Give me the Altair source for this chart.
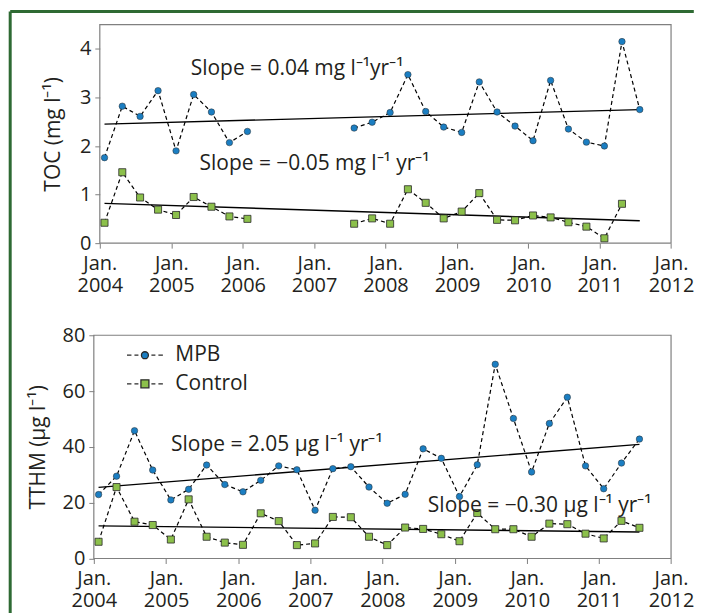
import altair as alt
import pandas as pd

# ---------------- data ----------------
series_names = ["MPB", "Control"]

toc_dates_a = ["2004-01-25", "2004-04-25", "2004-07-25", "2004-10-25", "2005-01-25",
               "2005-04-25", "2005-07-25", "2005-10-25", "2006-01-25"]
toc_dates_b = ["2007-07-25", "2007-10-25", "2008-01-25", "2008-04-25", "2008-07-25",
               "2008-10-25", "2009-01-25", "2009-04-25", "2009-07-25", "2009-10-25",
               "2010-01-25", "2010-04-25", "2010-07-25", "2010-10-25", "2011-01-25",
               "2011-04-25", "2011-07-25"]
toc_mpb = [1.76, 2.82, 2.61, 3.14, 1.90, 3.06, 2.70, 2.07, 2.30,
           2.37, 2.49, 2.69, 3.47, 2.71, 2.39, 2.28, 3.32, 2.70, 2.41, 2.11,
           3.35, 2.35, 2.08, 2.00, 4.15, 2.75]
toc_control = [0.42, 1.46, 0.94, 0.69, 0.58, 0.95, 0.75, 0.55, 0.50,
               0.40, 0.51, 0.40, 1.11, 0.83, 0.51, 0.65, 1.03, 0.48, 0.47, 0.57,
               0.53, 0.43, 0.34, 0.10, 0.81]

tthm_dates = ["2004-01-25", "2004-04-25", "2004-07-25", "2004-10-25",
              "2005-01-25", "2005-04-25", "2005-07-25", "2005-10-25",
              "2006-01-25", "2006-04-25", "2006-07-25", "2006-10-25",
              "2007-01-25", "2007-04-25", "2007-07-25", "2007-10-25",
              "2008-01-25", "2008-04-25", "2008-07-25", "2008-10-25",
              "2009-01-25", "2009-04-25", "2009-07-25", "2009-10-25",
              "2010-01-25", "2010-04-25", "2010-07-25", "2010-10-25",
              "2011-01-25", "2011-04-25", "2011-07-25"]
tthm_mpb = [22.9, 29.5, 45.8, 31.7, 21.0, 24.8, 33.5, 26.5, 23.9, 28.0, 33.2,
            31.8, 17.3, 32.2, 32.9, 25.6, 19.8, 23.0, 39.3, 35.9, 22.2, 33.6,
            69.6, 50.2, 31.0, 48.4, 57.8, 33.2, 25.0, 34.2, 42.8]
tthm_control = [6.0, 25.6, 13.2, 12.0, 6.8, 21.2, 7.8, 5.7, 4.9, 16.2, 13.4,
                4.8, 5.4, 14.9, 14.8, 7.8, 4.8, 11.1, 10.6, 8.7, 6.2, 16.3,
                10.5, 10.5, 7.8, 12.5, 12.3, 8.9, 7.2, 13.5, 11.0]

trend_dates = ["2004-01-25", "2011-07-25"]
toc_mpb_trend = [2.45, 2.75]
toc_control_trend = [0.82, 0.46]
tthm_mpb_trend = [25.5, 40.9]
tthm_control_trend = [11.7, 9.5]

toc_slope_labels = ["Slope = 0.04 mg l\u207b\u00b9yr\u207b\u00b9",
                    "Slope = \u22120.05 mg l\u207b\u00b9 yr\u207b\u00b9"]
tthm_slope_labels = ["Slope = 2.05 \u03bcg l\u207b\u00b9 yr\u207b\u00b9",
                     "Slope = \u22120.30 \u03bcg l\u207b\u00b9 yr\u207b\u00b9"]
year_ticks = [2004, 2005, 2006, 2007, 2008, 2009, 2010, 2011, 2012]

# ---------------- tables ----------------
def rows(dates, values, series, seg):
    return [{"date": d, "value": v, "series": series, "seg": seg} for d, v in zip(dates, values)]

na = len(toc_dates_a)
toc_df = pd.DataFrame(
    rows(toc_dates_a, toc_mpb[:na], "MPB", "MPB-1")
    + rows(toc_dates_b, toc_mpb[na:], "MPB", "MPB-2")
    + rows(toc_dates_a, toc_control[:na], "Control", "C-1")
    + rows(toc_dates_b, toc_control[na:], "Control", "C-2")
)
tthm_df = pd.DataFrame(
    rows(tthm_dates, tthm_mpb, "MPB", "MPB-1")
    + rows(tthm_dates, tthm_control, "Control", "C-1")
)
toc_trend_df = pd.DataFrame(
    rows(trend_dates, toc_mpb_trend, "MPB", "t1") + rows(trend_dates, toc_control_trend, "Control", "t2")
)
tthm_trend_df = pd.DataFrame(
    rows(trend_dates, tthm_mpb_trend, "MPB", "t1") + rows(trend_dates, tthm_control_trend, "Control", "t2")
)
toc_text_df = pd.DataFrame({"label": toc_slope_labels,
                            "date": ["2005-04-10", "2005-05-25"],
                            "value": [3.46, 1.51]})
tthm_text_df = pd.DataFrame({"label": tthm_slope_labels,
                             "date": ["2005-01-26", "2008-08-18"],
                             "value": [38.5, 16.5]})
one_row = pd.DataFrame({"k": [0]})

# ---------------- styling ----------------
FONT = "Open Sans"
TXT = "#231f20"
AX = "#808080"
BLUE = "#1b7ec2"
GREEN = "#8cc04b"
FRAME_GREEN = "#2e6a33"
W = 578.4

color_scale = alt.Scale(domain=series_names, range=[BLUE, GREEN])
X0 = alt.DateTime(year=2004, month=1, date=1, utc=True)
X1 = alt.DateTime(year=2012, month=1, date=1, utc=True)


def x_axis():
    return alt.Axis(values=[alt.DateTime(year=y, month=1, date=1, utc=True) for y in year_ticks],
                    labelExpr="['Jan.', utcFormat(datum.value, '%Y')]",
                    title=None, grid=False, labelAngle=0, labelFontSize=20,
                    labelLineHeight=22, labelPadding=5, labelFont=FONT, labelColor=TXT,
                    tickSize=5, tickColor=AX, domain=False, labelOverlap=False,
                    labelFlush=False)


def y_axis(title, values, pad, offset):
    return alt.Axis(values=values, title=title, grid=False, labelFontSize=20,
                    labelFont=FONT, labelColor=TXT, labelPadding=4, tickSize=5,
                    tickColor=AX, domain=False, titleFont=FONT, titleFontSize=21,
                    titleFontWeight="normal", titleColor=TXT, titlePadding=pad,
                    offset=offset)


def panel(df, trend_df, text_df, ytitle, ydomain, yvalues, tpad, legend, h, x_left, frame):
    x = alt.X("date:T", scale=alt.Scale(type="utc", domain=[X0, X1], range=[x_left, W]),
              axis=x_axis())
    y = alt.Y("value:Q", scale=alt.Scale(domain=ydomain, nice=False),
              axis=y_axis(ytitle, yvalues, tpad, -x_left))
    box = alt.Chart(one_row).mark_rect(filled=False, stroke=AX, strokeWidth=1.2).encode(
        x=alt.datum(X0), x2=alt.datum(X1), y=alt.datum(ydomain[0]), y2=alt.datum(ydomain[1]))
    lines = alt.Chart(df).mark_line(color="black", strokeDash=[4, 3], strokeWidth=1.2).encode(
        x=x, y=y, detail="seg:N")
    trend = alt.Chart(trend_df).mark_line(color="black", strokeWidth=1.4).encode(
        x=x, y=y, detail="seg:N")
    pts_mpb = alt.Chart(df).transform_filter(alt.datum.series == "MPB").mark_point(
        shape="circle", filled=True, size=42, opacity=1, stroke="#2a2a2a", strokeWidth=0.5).encode(
        x=x, y=y, color=alt.Color("series:N", scale=color_scale, legend=legend))
    pts_ctl = alt.Chart(df).transform_filter(alt.datum.series == "Control").mark_point(
        shape="square", filled=True, size=50, opacity=1, stroke="#2a2a2a", strokeWidth=0.8).encode(
        x=x, y=y, color=alt.Color("series:N", scale=color_scale, legend=legend))
    txt = alt.Chart(text_df).mark_text(align="left", baseline="alphabetic", fontSize=21,
                                       font=FONT, color=TXT).encode(
        x=x, y=y, text="label:N")
    layers = [box, lines, trend, pts_mpb, pts_ctl, txt]
    if frame:
        top_line = alt.Chart(one_row).mark_rule(color=FRAME_GREEN, strokeWidth=3).encode(
            x=alt.value(-83.8), x2=alt.value(601.2), y=alt.value(-13.2))
        left_line = alt.Chart(one_row).mark_rule(color=FRAME_GREEN, strokeWidth=3).encode(
            x=alt.value(-83.8), y=alt.value(-13.2), y2=alt.value(600))
        layers += [top_line, left_line]
    return alt.layer(*layers).properties(width=W, height=h,
                                         view=alt.ViewBackground(stroke="transparent"))


dash_l = "M-3.6,0L-2.7,0M-2.1,0L-1.3,0M1.3,0L2.1,0M2.7,0L3.6,0"
mpb_sym = dash_l + "M0.7,0A0.7,0.7,0,1,1,-0.7,0A0.7,0.7,0,1,1,0.7,0Z"
ctl_sym = dash_l + "M-0.8,-0.8L0.8,-0.8L0.8,0.8L-0.8,0.8Z"
legend = alt.Legend(title=None, orient="none", legendX=40.7, legendY=9.5, padding=0,
                    labelOffset=20, rowPadding=6.7, symbolSize=100,
                    symbolType={"expr": "datum.value === 'MPB' ? '" + mpb_sym + "' : '" + ctl_sym + "'"},
                    symbolStrokeColor="#2a2a2a", symbolStrokeWidth=1.3,
                    labelFontSize=21, labelFont=FONT, labelColor=TXT, labelLimit=200)

top = panel(toc_df, toc_trend_df, toc_text_df, "TOC (mg l\u207b\u00b9)", [0, 4.5],
            [0, 1, 2, 3, 4], 16, None, 219, 6, True)
bottom = panel(tthm_df, tthm_trend_df, tthm_text_df, "TTHM (\u03bcg l\u207b\u00b9)", [0, 80],
               [0, 20, 40, 60, 80], 14, legend, 223.7, 0, False)

chart = alt.vconcat(top, bottom, spacing=92.3, bounds="flush").resolve_scale(
    color="independent").properties(
    padding={"left": 0, "top": 0, "right": 0, "bottom": 0}).configure(background="white")

chart.save("out.html", embed_options={"renderer": "svg", "actions": False})
